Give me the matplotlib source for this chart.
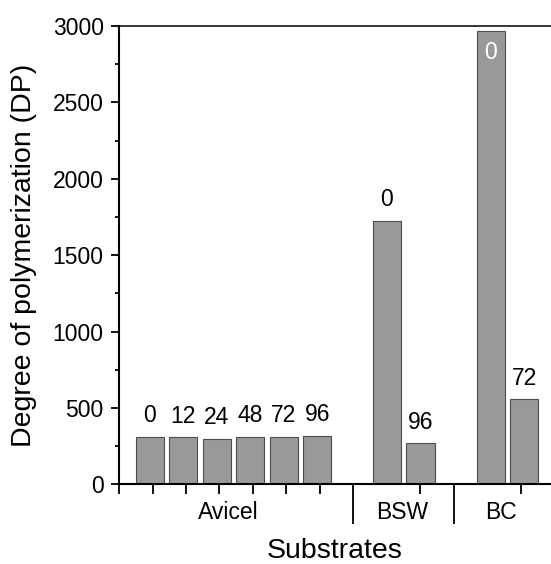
import numpy as np
import matplotlib
matplotlib.use("Agg")
import matplotlib.pyplot as plt
from matplotlib.ticker import FixedLocator, MultipleLocator
import matplotlib.transforms as mtransforms

plt.rcParams['font.family'] = ['Liberation Sans', 'DejaVu Sans']

# Data (DP vs. treatment time in hours)
groups = ["Avicel", "BSW", "BC"]
avicel_times = ["0", "12", "24", "48", "72", "96"]
avicel_dp = [312, 308, 299, 312, 310, 316]
bsw_times = ["0", "96"]
bsw_dp = [1725, 268]
bc_times = ["0", "72"]
bc_dp = [2967, 556]

bar_color = "#999999"
edge_color = "#4d4d4d"
fs = 16.5

fig = plt.figure(figsize=(5.51, 5.64), dpi=100)
ax = fig.add_axes([0.216, 0.1413, 0.784, 0.8126])

# bar positions per group
avicel_x = np.arange(1, 7) - 0.08
bsw_x = np.array([8.0, 9.0])
bc_x = np.array([11.1, 12.1])
width = 0.845

for xs, vals in [(avicel_x, avicel_dp), (bsw_x, bsw_dp), (bc_x, bc_dp)]:
    ax.bar(xs, vals, width=width, color=bar_color, edgecolor=edge_color, linewidth=0.8, zorder=2)

# time labels above the bars
for xs, vals, labs in [(avicel_x, avicel_dp, avicel_times),
                       (bsw_x, bsw_dp, bsw_times),
                       (bc_x[1:], bc_dp[1:], bc_times[1:])]:
    for x, v, t in zip(xs, vals, labs):
        ax.annotate(t, (x, v), xytext=(0, 7), textcoords="offset points",
                    ha="center", va="bottom", fontsize=fs)
# the tallest bar reaches the top, label goes inside in white
ax.annotate(bc_times[0], (bc_x[0], bc_dp[0]), xytext=(0, -7), textcoords="offset points",
            ha="center", va="top", fontsize=fs, color="white")

ax.set_xlim(0, 12.9)
ax.set_ylim(0, 3000)

ax.yaxis.set_major_locator(MultipleLocator(500))
ax.yaxis.set_minor_locator(MultipleLocator(250))
ax.xaxis.set_major_locator(FixedLocator([0, 1, 2, 3, 4, 5, 6, 9, 12]))
ax.xaxis.set_minor_locator(FixedLocator([7, 10]))
ax.set_xticklabels([])
ax.xaxis.set_minor_formatter(plt.NullFormatter())

ax.tick_params(axis="y", which="major", length=6, width=1.3, labelsize=fs, pad=5)
ax.tick_params(axis="y", which="minor", length=3, width=1.3)
ax.tick_params(axis="x", which="major", length=7.2, width=1.3)
ax.tick_params(axis="x", which="minor", length=29, width=1.3)

ax.spines["right"].set_visible(False)
ax.spines["left"].set_linewidth(1.5)
ax.spines["bottom"].set_linewidth(1.5)
ax.spines["top"].set_linewidth(1.1)

# group names under the axis
trans = mtransforms.blended_transform_factory(ax.transData, ax.transAxes)
for name, xc in zip(groups, [3.25, 8.45, 11.4]):
    ax.text(xc, -0.062, name, transform=trans, ha="center", va="center", fontsize=fs)

ax.set_xlabel("Substrates", fontsize=20.5)
ax.xaxis.set_label_coords(0.5, -0.118)
ax.set_ylabel("Degree of polymerization (DP)", fontsize=20.5)
ax.yaxis.set_label_coords(-0.19, 0.5)

fig.savefig("out.png", dpi=100)
